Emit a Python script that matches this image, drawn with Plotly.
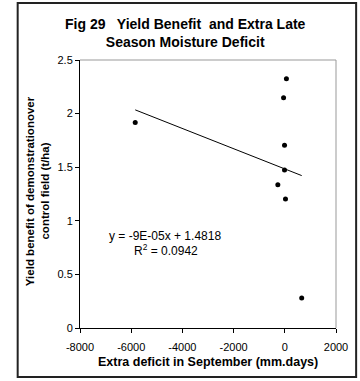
import numpy as np
import plotly.graph_objects as go

# Data
extra_deficit = [63, -48, -11, -11, -272, 26, 660, -5843]
yield_benefit = [2.324, 2.147, 1.704, 1.474, 1.336, 1.203, 0.280, 1.916]

x_ticks = [-8000, -6000, -4000, -2000, 0, 2000]
x_tick_labels = ["-8000", "-6000", "-4000", "-2000", "0", "2000"]
y_ticks = [0, 0.5, 1, 1.5, 2, 2.5]
y_tick_labels = ["0", "0.5", "1", "1.5", "2", "2.5"]

eq_text = "y = -9E-05x + 1.4818"
r2_text = "R<sup>2</sup> = 0.0942"

xs = np.array(extra_deficit, dtype=float)
ys = np.array(yield_benefit, dtype=float)
slope, intercept = np.polyfit(xs, ys, 1)
line_x = np.array([xs.min(), xs.max()])
line_y = slope * line_x + intercept

FONT = "Liberation Sans, Arial, sans-serif"

fig = go.Figure()
fig.add_trace(go.Scatter(x=line_x, y=line_y, mode="lines",
                         line=dict(color="black", width=1), hoverinfo="skip"))
fig.add_trace(go.Scatter(x=extra_deficit, y=yield_benefit, mode="markers",
                         marker=dict(color="black", size=5)))

W, H = 360, 381
ml, mr, mt, mb = 80, 13, 60, 53
pw, ph = W - ml - mr, H - mt - mb

def px(xp):
    return (xp - ml) / pw

def py(yp):
    return (H - mb - yp) / ph

def ann(text, x, y, size=10, **kw):
    d = dict(text=text, xref="paper", yref="paper", x=px(x), y=py(y),
             xanchor="center", yanchor="middle", showarrow=False,
             font=dict(size=size, family=FONT, color="black"), align="center")
    d.update(kw)
    return d

fig.update_layout(
    width=W, height=H,
    margin=dict(l=ml, r=mr, t=mt, b=mb, pad=0),
    paper_bgcolor="white", plot_bgcolor="white",
    showlegend=False,
    font=dict(family=FONT, size=11, color="black"),
    xaxis=dict(range=[-8000, 2000], tickvals=x_ticks, ticktext=x_tick_labels,
               ticks="outside", ticklen=4, ticklabelstandoff=5,
               tickcolor="black", showline=True, linecolor="black", linewidth=1,
               showgrid=False, zeroline=False, mirror=False,
               tickfont=dict(size=11, family=FONT)),
    yaxis=dict(range=[0, 2.5], tickvals=y_ticks, ticktext=y_tick_labels,
               ticks="outside", ticklen=4,
               tickcolor="black", showline=True, linecolor="black", linewidth=1,
               showgrid=False, zeroline=False,
               tickfont=dict(size=11, family=FONT)),
    shapes=[
        dict(type="line", xref="paper", yref="paper", x0=0, x1=1, y0=1, y1=1,
             line=dict(color="#999999", width=1)),
        dict(type="line", xref="paper", yref="paper", x0=1, x1=1, y0=0, y1=1,
             line=dict(color="#999999", width=1)),
        dict(type="rect", xref="paper", yref="paper",
             x0=px(15), x1=px(368), y0=py(377), y1=py(3),
             line=dict(color="#222222", width=2)),
    ],
    annotations=[
        ann("<b>Fig 29&nbsp;&nbsp; Yield Benefit&nbsp; and Extra Late<br>Season Moisture Deficit</b>",
            190, 33, size=14),
        ann("<b>Yield benefit of demonstrationover</b>", 28, 191, size=11.5,
            textangle=-90),
        ann("<b>control field (t/ha)</b>", 43, 191, size=11.5, textangle=-90),
        ann("<b>Extra deficit in September (mm.days)</b>", 213, 362, size=12.5),
        dict(text=eq_text, xref="x", yref="y", x=-4690, y=0.86, showarrow=False,
             xanchor="center", yanchor="middle", font=dict(size=12, family=FONT)),
        dict(text=r2_text, xref="x", yref="y", x=-4634, y=0.729, showarrow=False,
             xanchor="center", yanchor="middle", font=dict(size=12, family=FONT)),
    ],
)

fig.write_html("out.html")
